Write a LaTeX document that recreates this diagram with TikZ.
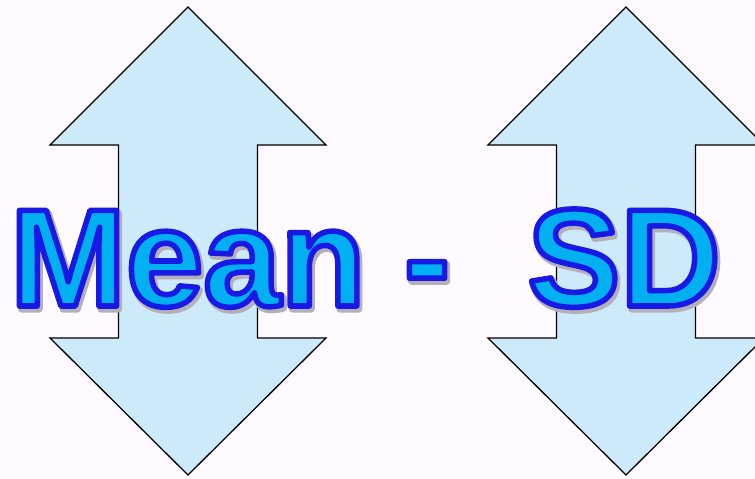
\documentclass[tikz,border=0pt]{standalone}
\usepackage{fontspec}
\setmainfont{Liberation Sans}
\usepackage{tikz}
\usetikzlibrary{calc}
\definecolor{bgpink}{HTML}{FFFAFF}
\definecolor{arrowblue}{HTML}{CCEAFA}
\definecolor{textcyan}{HTML}{00B0F0}
\definecolor{shadowgray}{HTML}{B4AFB8}
% filled and stroked glyphs: #1 = stroke colour (rgb), #2 = stroke width
\newcommand\strokedtext[3]{%
  \special{pdf:literal direct #1 RG #2 w 1 j 2 Tr}#3\special{pdf:literal direct 0 Tr}}

\begin{document}
\begin{tikzpicture}[x=1pt,y=-1pt,
  bigword/.style={inner sep=0pt,anchor=base west,font=\bfseries\fontsize{139}{142}\selectfont}]
  \fill[bgpink] (0,0) rectangle (755,479);
  \path[use as bounding box] (0,0) rectangle (755,479);
  \begin{scope}
    \clip (0,0) rectangle (755,479);
    % up-down arrows behind the text
    \foreach \cx in {188,626}{
      \draw[fill=arrowblue,line width=1.3pt]
        (\cx,7) -- (\cx+138,145) -- (\cx+69.5,145) -- (\cx+69.5,338) -- (\cx+138,338)
        -- (\cx,475) -- (\cx-138,338) -- (\cx-69.5,338) -- (\cx-69.5,145) -- (\cx-138,145) -- cycle;
    }
  \end{scope}
  \node[bigword,text=shadowgray] (titleshadow) at (12,309)
    {\strokedtext{0.71 0.69 0.72}{7}{Mean -\ \ SD}};
  \node[bigword,text=textcyan] (title) at (10,306)
    {\strokedtext{0.10 0.10 0.90}{5.5}{Mean -\ \ SD}};
\end{tikzpicture}
\end{document}
